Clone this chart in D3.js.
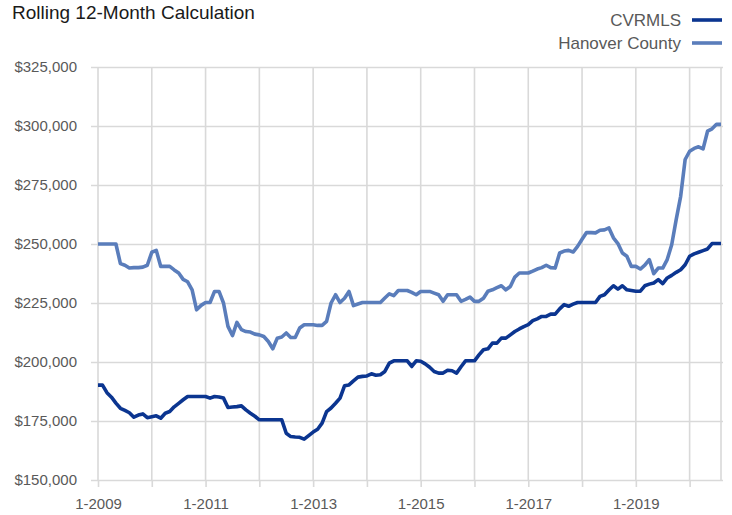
<!DOCTYPE html>
<html>
<head>
<meta charset="utf-8">
<script src="https://cdn.jsdelivr.net/npm/d3@7"></script>
<style>
body { margin: 0; background: #fff; }
svg { display: block; font-family: "Liberation Sans", Arial, sans-serif; }
</style>
</head>
<body>
<svg id="vis" width="732" height="515"></svg>
<script>
// months from 1-2009 to 8-2020, one value per month
const START_YEAR = 2009;
const TICK_LABELS = ["1-2009", "1-2011", "1-2013", "1-2015", "1-2017", "1-2019"];
const Y_TICKS = [150000, 175000, 200000, 225000, 250000, 275000, 300000, 325000];
const SERIES_NAMES = ["CVRMLS", "Hanover County"];

const CVRMLS = [
    190200, 190200, 187000, 185100, 182600, 180400, 179500, 178500, 176600, 177500, 178000, 176400,
    176800, 177200, 176200, 178300, 179000, 181000, 182500, 184000, 185400, 185400, 185400, 185400,
    185400, 184700, 185400, 185200, 184700, 180700, 180900, 181100, 181400, 179700, 178300, 177000,
    175500, 175500, 175500, 175500, 175500, 175500, 169800, 168400, 168200, 168100, 167300, 168800,
    170300, 171500, 174100, 179000, 180500, 182500, 184700, 189900, 190300, 192000, 193600, 193900,
    194100, 195000, 194400, 194600, 196000, 199500, 200500, 200500, 200500, 200500, 198100, 200500,
    200300, 199200, 197800, 196000, 195300, 195300, 196500, 196300, 195300, 198000, 200500, 200500,
    200500, 203000, 205200, 205600, 208000, 208000, 210100, 210100, 211500, 212900, 214000, 215000,
    215800, 217500, 218300, 219300, 219300, 220300, 220300, 222500, 224300, 223600, 224500, 225200,
    225200, 225200, 225200, 225200, 227800, 228500, 230500, 232300, 230900, 232300, 230600, 230300,
    230000, 230000, 232300, 233000, 233500, 234900, 233200, 235600, 236700, 238000, 239100, 241200,
    244800, 245800, 246500, 247200, 247900, 250200, 250200, 250200
];

const HANOVER = [
    250000, 250000, 250000, 250000, 250000, 241700, 241000, 239800, 240000, 240000, 240200, 241000,
    246500, 247300, 240500, 240500, 240500, 239000, 237700, 235000, 234000, 230600, 222100, 224000,
    225200, 225200, 229900, 229900, 225000, 215100, 211200, 216800, 213700, 212900, 212700, 211800,
    211500, 210800, 208700, 205600, 210100, 210600, 212300, 210400, 210400, 214400, 215800, 215800,
    215800, 215500, 215500, 217200, 225000, 228500, 225200, 227000, 229900, 223900, 224600, 225200,
    225200, 225200, 225200, 225200, 227100, 228900, 228100, 230300, 230300, 230300, 229500, 228500,
    229900, 229900, 229900, 229200, 228500, 225700, 228500, 228500, 228500, 225700, 226500, 227500,
    225700, 225700, 227000, 230000, 230600, 231500, 232300, 230600, 232000, 236000, 237700, 237700,
    237700, 238500, 239400, 240000, 241000, 240000, 239800, 246200, 247000, 247300, 246600, 249000,
    252000, 254900, 254800, 254700, 255800, 256000, 256800, 252600, 250200, 246200, 244800, 240500,
    240500, 239400, 241000, 243400, 237400, 239800, 239800, 243400, 249700, 260300, 270200, 285800,
    289300, 290500, 291200, 290300, 297800, 298800, 300700, 300700
];

const COLORS = ["#0b3590", "#5a7dbb"];
const GRID = "#d9d9d9";
const TEXT = "#595959";

const PLOT = {left: 98, right: 721, top: 67, bottom: 480};

const svg = d3.select("#vis");

const xScale = d3.scaleLinear()
    .domain([0, CVRMLS.length - 1])
    .range([PLOT.left, PLOT.right]);

const yScale = d3.scaleLinear()
    .domain([d3.min(Y_TICKS), d3.max(Y_TICKS)])
    .range([PLOT.bottom, PLOT.top]);

// one vertical gridline per year, plus the right edge
const yearIdx = d3.range(0, CVRMLS.length, 12);

// horizontal gridlines with the y labels
const yAxis = d3.axisLeft(yScale)
    .tickValues(Y_TICKS)
    .tickSize(-(PLOT.right + 2 - (PLOT.left - 7)))
    .tickSizeOuter(0)
    .tickPadding(14)
    .tickFormat(d => "$" + d3.format(",")(d));

const gy = svg.append("g")
    .attr("transform", `translate(${PLOT.left - 7},0)`)
    .call(yAxis);
gy.select(".domain").remove();
gy.selectAll("line").attr("stroke", GRID).attr("stroke-width", 1.6);
gy.selectAll("text")
    .attr("fill", TEXT)
    .style("font-size", "15px");

// vertical gridlines
svg.append("g").selectAll("line")
    .data(yearIdx.concat([CVRMLS.length - 1]))
    .enter()
    .append("line")
    .attr("x1", d => xScale(d))
    .attr("x2", d => xScale(d))
    .attr("y1", PLOT.top)
    .attr("y2", PLOT.bottom)
    .attr("stroke", GRID)
    .attr("stroke-width", 1.6);

// bottom axis: small ticks each year, labels every two years
const xAxis = d3.axisBottom(xScale)
    .tickValues(yearIdx)
    .tickSize(7)
    .tickSizeOuter(0)
    .tickPadding(11)
    .tickFormat(d => TICK_LABELS[d / 24] || "");

const gx = svg.append("g")
    .attr("transform", `translate(0,${PLOT.bottom})`)
    .call(xAxis);
gx.select(".domain").remove();
gx.selectAll("line").attr("stroke", GRID).attr("stroke-width", 1.6);
gx.selectAll("text")
    .attr("fill", TEXT)
    .style("font-size", "15px");

// the two series
const line = d3.line()
    .x((d, i) => xScale(i))
    .y(d => yScale(d));

[HANOVER, CVRMLS].forEach(function(values, k){
    svg.append("path")
        .datum(values)
        .attr("d", line)
        .attr("fill", "none")
        .attr("stroke", k == 0 ? COLORS[1] : COLORS[0])
        .attr("stroke-width", 3.6)
        .attr("stroke-linejoin", "round");
});

// title
svg.append("text")
    .attr("x", 12)
    .attr("y", 19)
    .attr("fill", "#1a1a1a")
    .style("font-size", "19px")
    .text("Rolling 12-Month Calculation");

// legend, top right
const legend = svg.append("g").selectAll("g")
    .data(SERIES_NAMES)
    .enter()
    .append("g")
    .attr("transform", (d, i) => `translate(0,${20 + i * 23})`);

legend.append("line")
    .attr("x1", 692)
    .attr("x2", 722)
    .attr("stroke", (d, i) => COLORS[i])
    .attr("stroke-width", 3.6);

legend.append("text")
    .attr("x", 681)
    .attr("y", 6)
    .attr("text-anchor", "end")
    .attr("fill", TEXT)
    .style("font-size", "17px")
    .text(d => d);
</script>
</body>
</html>
